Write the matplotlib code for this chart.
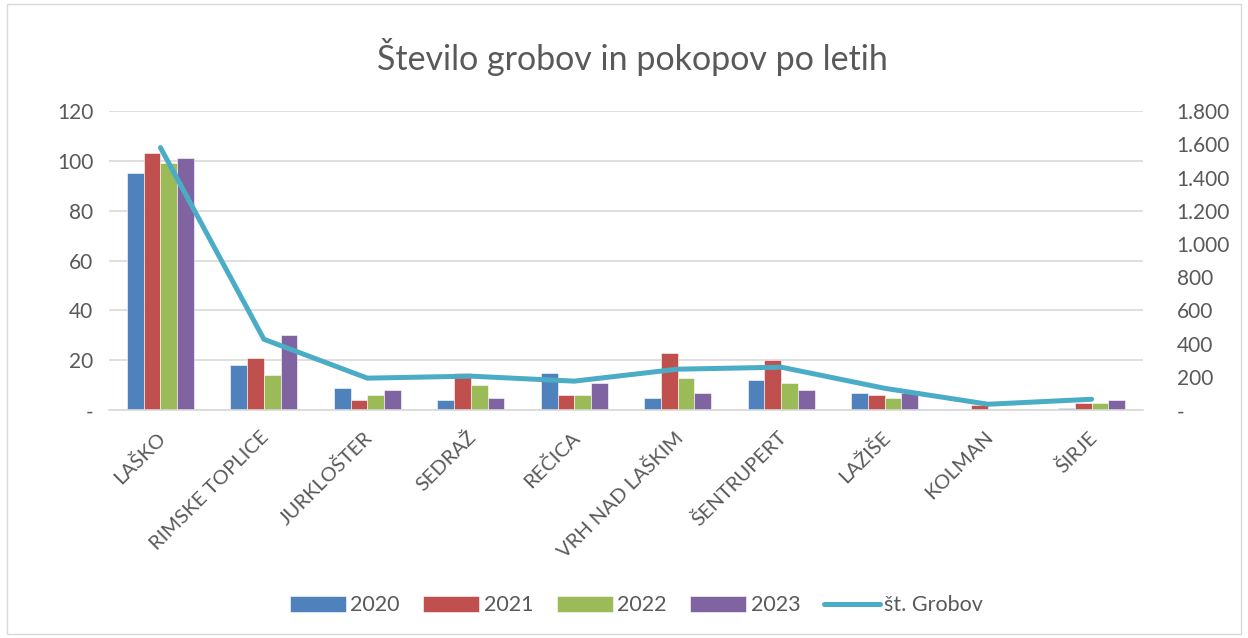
import matplotlib
matplotlib.use("Agg")
import matplotlib.pyplot as plt
from matplotlib.patches import Rectangle
from matplotlib.ticker import FuncFormatter
import matplotlib.transforms as mtransforms
import numpy as np

categories = ["LAŠKO", "RIMSKE TOPLICE", "JURKLOŠTER", "SEDRAŽ", "REČICA",
              "VRH NAD LAŠKIM", "ŠENTRUPERT", "LAŽIŠE", "KOLMAN", "ŠIRJE"]
y2020 = [95, 18, 9, 4, 15, 5, 12, 7, 0, 1]
y2021 = [103, 21, 4, 15, 6, 23, 20, 6, 2, 3]
y2022 = [99, 14, 6, 10, 6, 13, 11, 5, 0, 3]
y2023 = [101, 30, 8, 5, 11, 7, 8, 7, 0, 4]
grobovi = [1580, 427, 193, 205, 175, 247, 259, 132, 36, 66]
series_labels = ["2020", "2021", "2022", "2023"]
line_label = "št. Grobov"
title = "Število grobov in pokopov po letih"

colors = ["#4F81BD", "#C0504D", "#9BBB59", "#8064A2"]
line_color = "#4BACC6"
text_color = "#595959"
font = ["Lato", "DejaVu Sans"]
plt.rcParams["font.family"] = font

fig = plt.figure(figsize=(12.48, 6.38), dpi=100)
ax = fig.add_axes([0.0871, 0.357, 0.829, 0.469])
ax2 = ax.twinx()

x = np.arange(len(categories))
w = 0.162
data = [y2020, y2021, y2022, y2023]
for i, (vals, c, lab) in enumerate(zip(data, colors, series_labels)):
    ax.bar(x + (i - 1.5) * w, vals, width=w, color=c, label=lab,
           edgecolor="white", linewidth=0.4, zorder=2)

ax2.plot(x, grobovi, color=line_color, linewidth=3.6, label=line_label,
         solid_capstyle="round", solid_joinstyle="round", zorder=3)

ax.set_xlim(-0.5, len(categories) - 0.5)
ax.set_ylim(0, 120)
ax.set_yticks(range(0, 121, 20))
ax2.set_ylim(0, 1800)
ax2.set_yticks(range(0, 1801, 200))

def fmt_left(v, p):
    return "-" if v == 0 else f"{int(v)}"

def fmt_right(v, p):
    if v == 0:
        return "-"
    return f"{int(v):,}".replace(",", ".")

ax.yaxis.set_major_formatter(FuncFormatter(fmt_left))
ax2.yaxis.set_major_formatter(FuncFormatter(fmt_right))

ax.grid(axis="y", color="#D9D9D9", linewidth=1.2, zorder=0)
ax.set_axisbelow(True)
for a in (ax, ax2):
    for s in a.spines.values():
        s.set_visible(False)
    a.tick_params(length=0, labelsize=15, colors=text_color)
ax.spines["bottom"].set_visible(True)
ax.spines["bottom"].set_color("#D9D9D9")
ax.spines["bottom"].set_linewidth(1.2)

ax.tick_params(axis="y", pad=11)
ax2.tick_params(axis="y", pad=24)

ax.set_xticks(x)
ax.set_xticklabels(categories, rotation=45, ha="right", rotation_mode="anchor",
                   fontsize=14.5, color=text_color)
ax.tick_params(axis="x", pad=13)
offset = mtransforms.ScaledTranslation(-4 / 100, 0, fig.dpi_scale_trans)
for lbl in ax.get_xticklabels():
    lbl.set_transform(lbl.get_transform() + offset)

fig.text(0.507, 0.91, title, ha="center", va="center", fontsize=24.5, color=text_color)

h1, l1 = ax.get_legend_handles_labels()
h2, l2 = ax2.get_legend_handles_labels()
leg = fig.legend(h1 + h2, l1 + l2, loc="center", bbox_to_anchor=(0.51, 0.051),
                 ncol=5, frameon=False, fontsize=15.5, handlelength=2.6,
                 handleheight=0.75, columnspacing=1.1, handletextpad=0.2)
for t in leg.get_texts():
    t.set_color(text_color)

fig.patches.append(Rectangle((0.006, 0.006), 0.988, 0.988, transform=fig.transFigure,
                             fill=False, edgecolor="#D9D9D9", linewidth=1))

fig.savefig("out.png", dpi=100)
